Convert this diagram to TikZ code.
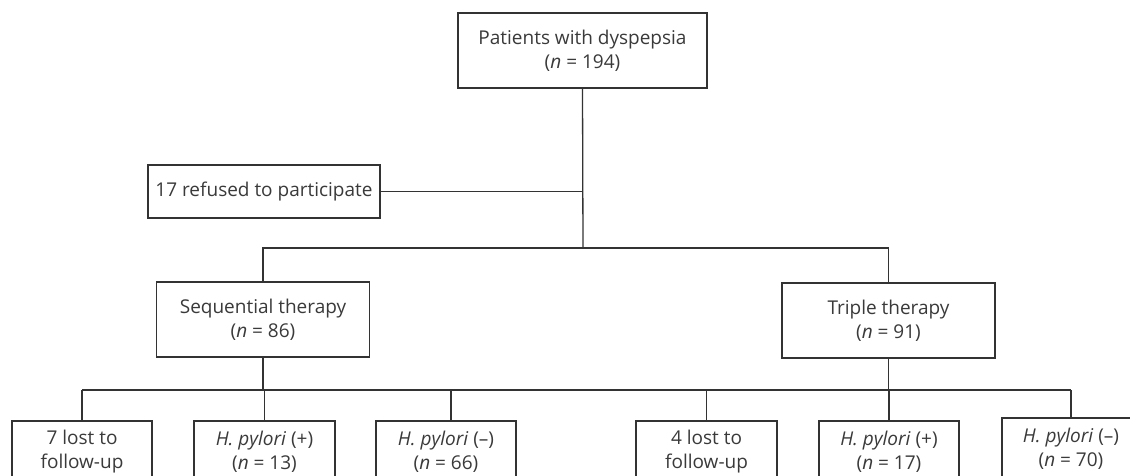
\documentclass[tikz,border=0pt]{standalone}
\usepackage{fontspec}
\setmainfont{Open Sans}
\definecolor{ink}{HTML}{333333}
\definecolor{txt}{HTML}{3A3A3A}
\begin{document}
\begin{tikzpicture}[x=1pt,y=-1pt,
  box/.style={draw=ink,line width=1.4pt,text=txt,inner sep=0pt,align=center,font=\fontsize{19}{24}\selectfont},
  link/.style={draw=ink,line width=1.3pt}]
\useasboundingbox (0,0) rectangle (1130,476);
\clip (0,0) rectangle (1130,476);
\fill[white] (0,0) rectangle (1130,476);
\node[box,minimum width=249pt,minimum height=75pt] (top) at (582.5,50.5) {Patients with dyspepsia\\(\textit{n} = 194)};
\node[box,minimum width=232pt,minimum height=53pt] (ref) at (264,191.5) {17 refused to participate};
\node[box,minimum width=213pt,minimum height=75pt] (seq) at (263,319.5) {Sequential therapy\\(\textit{n} = 86)};
\node[box,minimum width=213pt,minimum height=75pt] (tri) at (888.5,320.5) {Triple therapy\\(\textit{n} = 91)};
\begin{scope}[every node/.append style={font=\fontsize{19}{23}\selectfont,minimum height=61pt}]
\node[box,minimum width=140pt] (s1) at (82,451.5) {7 lost to\\follow-up};
\node[box,minimum width=141pt] (s2) at (264.5,451.5) {\textit{H. pylori} (+)\\(\textit{n} = 13)};
\node[box,minimum width=140pt] (s3) at (446,451.5) {\textit{H. pylori} (–)\\(\textit{n} = 66)};
\node[box,minimum width=141pt] (t1) at (706.5,451.5) {4 lost to\\follow-up};
\node[box,minimum width=140pt] (t2) at (889,451.5) {\textit{H. pylori} (+)\\(\textit{n} = 17)};
\node[box,minimum width=138pt] (t3) at (1071,448.5) {\textit{H. pylori} (–)\\(\textit{n} = 70)};
\end{scope}
\coordinate (j1) at (583,191.5);
\coordinate (b1) at (583,248);
\coordinate (bL) at (82,390);
\coordinate (bR) at (1071,390);
\draw[link] (top.south) -- (b1);
\draw[link] (ref.east) -- (j1);
\draw[link] (seq.north) |- (b1) -| (tri.north);
\draw[link] (bL) -- (bR);
\draw[link] (s1.north) -- (bL);
\draw[link] (t3.north) -- (bR);
\draw[link] (seq.south) -- (seq.south |- bL);
\draw[link] (tri.south) -- (tri.south |- bL);
\draw[link] (s2.north) -- (s2.north |- bL);
\draw[link] ([xshift=5pt]s3.north) -- ([xshift=5pt]s3.north |- bL);
\draw[link] (t1.north) -- (t1.north |- bL);
\draw[link] (t2.north) -- (t2.north |- bL);
\end{tikzpicture}
\end{document}
